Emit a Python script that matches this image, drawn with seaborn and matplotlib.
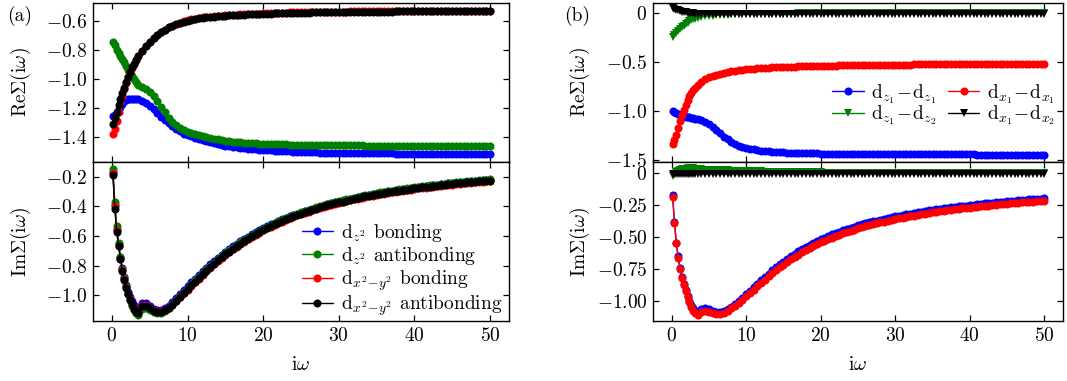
import matplotlib
matplotlib.use("Agg")
import matplotlib.pyplot as plt
import seaborn as sns
from matplotlib.ticker import FixedLocator, FixedFormatter

# Matsubara frequency grid
X = [0.13, 0.38, 0.63, 0.88, 1.13, 1.38, 1.63, 1.88, 2.14, 2.39, 2.64, 2.89, 3.14,
     3.5, 4.0, 4.5, 5.0, 5.5, 6.0, 6.5, 7.0, 7.5, 8.0, 8.5, 9.0, 9.5,
     10.0, 10.5, 11.0, 11.5, 12.0, 12.5, 13.0, 13.5, 14.0, 14.5,
     15.0, 15.5, 16.0, 16.5, 17.0, 17.5, 18.0, 18.5, 19.0, 19.5,
     20.0, 20.5, 21.0, 21.5, 22.0, 22.5, 23.0, 23.5, 24.0, 24.5,
     25.0, 25.5, 26.0, 26.5, 27.0, 27.5, 28.0, 28.5, 29.0, 29.5,
     30.0, 30.5, 31.0, 31.5, 32.0, 32.5, 33.0, 33.5, 34.0, 34.5,
     35.0, 35.5, 36.0, 36.5, 37.0, 37.5, 38.0, 38.5, 39.0, 39.5,
     40.0, 40.5, 41.0, 41.5, 42.0, 42.5, 43.0, 43.5, 44.0, 44.5,
     45.0, 45.5, 46.0, 46.5, 47.0, 47.5, 48.0, 48.5, 49.0, 49.5,
     50.0]

# ---------------- panel (a): Re Sigma ----------------
A_RE_BLUE = [-1.255, -1.250, -1.235, -1.210, -1.190, -1.170, -1.155, -1.145, -1.140, -1.135, -1.135, -1.135, -1.137,
             -1.140, -1.150, -1.165, -1.185, -1.210, -1.235, -1.260, -1.285, -1.305, -1.325, -1.345, -1.360, -1.375,
             -1.385, -1.395, -1.405, -1.413, -1.420, -1.428, -1.435, -1.441, -1.447, -1.452,
             -1.457, -1.461, -1.465, -1.469, -1.472, -1.475, -1.478, -1.481, -1.483, -1.485,
             -1.487, -1.489, -1.491, -1.493, -1.494, -1.496, -1.497, -1.498, -1.499, -1.500,
             -1.501, -1.502, -1.503, -1.504, -1.504, -1.505, -1.505, -1.506, -1.506, -1.507,
             -1.507, -1.508, -1.508, -1.508, -1.509, -1.509, -1.509, -1.510, -1.510, -1.510,
             -1.510, -1.511, -1.511, -1.511, -1.511, -1.512, -1.512, -1.512, -1.512, -1.512,
             -1.512, -1.513, -1.513, -1.513, -1.513, -1.513, -1.513, -1.514, -1.514, -1.514,
             -1.514, -1.514, -1.514, -1.514, -1.514, -1.515, -1.515, -1.515, -1.515, -1.515,
             -1.515]
A_RE_GREEN = [-0.750, -0.770, -0.800, -0.825, -0.845, -0.865, -0.885, -0.915, -0.940, -0.960, -0.980, -1.000, -1.020,
              -1.040, -1.055, -1.070, -1.090, -1.120, -1.150, -1.190, -1.230, -1.265, -1.295, -1.315, -1.335, -1.350,
              -1.362, -1.371, -1.380, -1.388, -1.395, -1.400, -1.405, -1.410, -1.415, -1.419,
              -1.423, -1.427, -1.430, -1.433, -1.435, -1.437, -1.439, -1.441, -1.442, -1.444,
              -1.445, -1.446, -1.447, -1.448, -1.449, -1.450, -1.450, -1.451, -1.451, -1.452,
              -1.452, -1.453, -1.453, -1.454, -1.454, -1.454, -1.454, -1.455, -1.455, -1.455,
              -1.455, -1.456, -1.456, -1.456, -1.456, -1.456, -1.456, -1.457, -1.457, -1.457,
              -1.457, -1.457, -1.457, -1.457, -1.457, -1.457, -1.458, -1.458, -1.458, -1.458,
              -1.458, -1.458, -1.458, -1.458, -1.458, -1.458, -1.458, -1.458, -1.458, -1.458,
              -1.458, -1.458, -1.459, -1.459, -1.459, -1.459, -1.459, -1.459, -1.459, -1.459,
              -1.459]
A_RE_RED = [-1.380, -1.345, -1.290, -1.225, -1.165, -1.115, -1.070, -1.028, -0.990, -0.955, -0.924, -0.896, -0.873,
            -0.845, -0.808, -0.775, -0.745, -0.720, -0.700, -0.680, -0.662, -0.647, -0.635, -0.625, -0.616, -0.606,
            -0.598, -0.592, -0.587, -0.583, -0.579, -0.576, -0.573, -0.570, -0.568, -0.566,
            -0.564, -0.562, -0.561, -0.559, -0.558, -0.556, -0.555, -0.554, -0.553, -0.552,
            -0.551, -0.550, -0.549, -0.548, -0.548, -0.547, -0.546, -0.545, -0.545, -0.544,
            -0.544, -0.543, -0.543, -0.542, -0.542, -0.541, -0.541, -0.540, -0.540, -0.540,
            -0.540, -0.539, -0.539, -0.538, -0.538, -0.538, -0.538, -0.537, -0.537, -0.537,
            -0.537, -0.536, -0.536, -0.536, -0.536, -0.535, -0.535, -0.535, -0.535, -0.535,
            -0.535, -0.534, -0.534, -0.534, -0.534, -0.534, -0.534, -0.533, -0.533, -0.533,
            -0.533, -0.533, -0.533, -0.533, -0.532, -0.532, -0.532, -0.532, -0.532, -0.532,
            -0.532]
A_RE_BLACK = [-1.310, -1.265, -1.225, -1.180, -1.140, -1.100, -1.060, -1.020, -0.985, -0.952, -0.922, -0.895, -0.872,
              -0.845, -0.808, -0.775, -0.745, -0.720, -0.700, -0.680, -0.662, -0.647, -0.635, -0.625, -0.616, -0.608,
              -0.601, -0.595, -0.590, -0.586, -0.582, -0.579, -0.576, -0.573, -0.571, -0.569,
              -0.567, -0.565, -0.564, -0.562, -0.561, -0.559, -0.558, -0.557, -0.556, -0.555,
              -0.554, -0.553, -0.552, -0.551, -0.551, -0.550, -0.549, -0.548, -0.548, -0.547,
              -0.547, -0.546, -0.546, -0.545, -0.545, -0.544, -0.544, -0.543, -0.543, -0.543,
              -0.543, -0.542, -0.542, -0.541, -0.541, -0.541, -0.541, -0.540, -0.540, -0.540,
              -0.540, -0.539, -0.539, -0.539, -0.539, -0.538, -0.538, -0.538, -0.538, -0.538,
              -0.538, -0.537, -0.537, -0.537, -0.537, -0.537, -0.537, -0.536, -0.536, -0.536,
              -0.536, -0.536, -0.536, -0.536, -0.535, -0.535, -0.535, -0.535, -0.535, -0.535,
              -0.535]

# ---------------- panel (a): Im Sigma ----------------
A_IM_BLUE = [-0.170, -0.390, -0.550, -0.655, -0.745, -0.818, -0.878, -0.930, -0.975, -1.012, -1.042, -1.068, -1.085,
             -1.092, -1.050, -1.052, -1.072, -1.092, -1.102, -1.100, -1.088, -1.070, -1.048, -1.022, -0.994, -0.966,
             -0.938, -0.913, -0.888, -0.863, -0.839, -0.815, -0.792, -0.769, -0.747, -0.727,
             -0.707, -0.688, -0.670, -0.652, -0.635, -0.619, -0.604, -0.589, -0.574, -0.560,
             -0.546, -0.534, -0.522, -0.510, -0.499, -0.488, -0.478, -0.468, -0.459, -0.450,
             -0.442, -0.433, -0.425, -0.417, -0.409, -0.401, -0.394, -0.387, -0.380, -0.373,
             -0.367, -0.361, -0.355, -0.349, -0.343, -0.337, -0.332, -0.327, -0.322, -0.317,
             -0.313, -0.308, -0.304, -0.299, -0.295, -0.291, -0.287, -0.283, -0.280, -0.276,
             -0.273, -0.269, -0.266, -0.263, -0.260, -0.257, -0.254, -0.251, -0.248, -0.245,
             -0.242, -0.239, -0.237, -0.234, -0.232, -0.229, -0.227, -0.225, -0.223, -0.221,
             -0.219]
A_IM_GREEN = [-0.150, -0.370, -0.530, -0.645, -0.740, -0.820, -0.885, -0.940, -0.990, -1.035, -1.070, -1.100, -1.122,
              -1.135, -1.090, -1.085, -1.100, -1.115, -1.122, -1.118, -1.105, -1.085, -1.060, -1.032, -1.003, -0.975,
              -0.950, -0.925, -0.900, -0.875, -0.850, -0.826, -0.802, -0.779, -0.757, -0.736,
              -0.716, -0.697, -0.678, -0.660, -0.643, -0.626, -0.610, -0.595, -0.580, -0.565,
              -0.550, -0.537, -0.525, -0.513, -0.501, -0.490, -0.479, -0.469, -0.459, -0.449,
              -0.440, -0.431, -0.423, -0.415, -0.407, -0.399, -0.392, -0.385, -0.378, -0.371,
              -0.365, -0.359, -0.353, -0.347, -0.341, -0.335, -0.330, -0.325, -0.320, -0.315,
              -0.311, -0.306, -0.302, -0.297, -0.293, -0.289, -0.285, -0.281, -0.278, -0.274,
              -0.271, -0.267, -0.264, -0.261, -0.258, -0.255, -0.252, -0.249, -0.246, -0.243,
              -0.240, -0.237, -0.235, -0.232, -0.230, -0.227, -0.225, -0.223, -0.221, -0.219,
              -0.217]
A_IM_RED = [-0.175, -0.400, -0.560, -0.665, -0.752, -0.830, -0.893, -0.945, -0.990, -1.028, -1.060, -1.088, -1.108,
            -1.118, -1.068, -1.068, -1.086, -1.102, -1.110, -1.108, -1.098, -1.083, -1.064, -1.040, -1.013, -0.987,
            -0.962, -0.937, -0.912, -0.887, -0.862, -0.838, -0.814, -0.791, -0.769, -0.748,
            -0.728, -0.709, -0.690, -0.672, -0.655, -0.638, -0.622, -0.607, -0.592, -0.577,
            -0.562, -0.549, -0.537, -0.525, -0.513, -0.502, -0.491, -0.481, -0.471, -0.461,
            -0.452, -0.443, -0.435, -0.427, -0.419, -0.411, -0.404, -0.397, -0.390, -0.383,
            -0.377, -0.371, -0.365, -0.359, -0.353, -0.347, -0.342, -0.337, -0.332, -0.327,
            -0.323, -0.318, -0.314, -0.309, -0.305, -0.301, -0.297, -0.293, -0.290, -0.286,
            -0.283, -0.279, -0.276, -0.273, -0.270, -0.267, -0.264, -0.261, -0.258, -0.255,
            -0.252, -0.249, -0.247, -0.244, -0.242, -0.239, -0.237, -0.235, -0.233, -0.231,
            -0.229]
A_IM_BLACK = [-0.185, -0.415, -0.570, -0.670, -0.758, -0.835, -0.898, -0.948, -0.992, -1.030, -1.062, -1.090, -1.110,
              -1.120, -1.070, -1.070, -1.088, -1.104, -1.112, -1.110, -1.100, -1.085, -1.065, -1.040, -1.012, -0.985,
              -0.958, -0.933, -0.908, -0.883, -0.858, -0.834, -0.810, -0.787, -0.765, -0.744,
              -0.724, -0.705, -0.686, -0.668, -0.651, -0.634, -0.618, -0.603, -0.588, -0.573,
              -0.558, -0.545, -0.533, -0.521, -0.509, -0.498, -0.487, -0.477, -0.467, -0.457,
              -0.448, -0.439, -0.431, -0.423, -0.415, -0.407, -0.400, -0.393, -0.386, -0.379,
              -0.373, -0.367, -0.361, -0.355, -0.349, -0.343, -0.338, -0.333, -0.328, -0.323,
              -0.319, -0.314, -0.310, -0.305, -0.301, -0.297, -0.293, -0.289, -0.286, -0.282,
              -0.279, -0.275, -0.272, -0.269, -0.266, -0.263, -0.260, -0.257, -0.254, -0.251,
              -0.248, -0.245, -0.243, -0.240, -0.238, -0.235, -0.233, -0.231, -0.229, -0.227,
              -0.225]

# ---------------- panel (b): Re Sigma ----------------
B_RE_BLUE = [-1.000, -1.010, -1.020, -1.030, -1.038, -1.045, -1.050, -1.055, -1.060, -1.065, -1.070, -1.075, -1.080,
             -1.085, -1.095, -1.110, -1.130, -1.160, -1.190, -1.225, -1.260, -1.290, -1.315, -1.335, -1.352, -1.365,
             -1.375, -1.384, -1.392, -1.398, -1.403, -1.407, -1.411, -1.414, -1.417, -1.419,
             -1.421, -1.423, -1.425, -1.427, -1.428, -1.429, -1.430, -1.431, -1.432, -1.433,
             -1.434, -1.434, -1.435, -1.435, -1.436, -1.436, -1.437, -1.437, -1.438, -1.438,
             -1.439, -1.439, -1.439, -1.439, -1.440, -1.440, -1.440, -1.440, -1.441, -1.441,
             -1.441, -1.441, -1.441, -1.442, -1.442, -1.442, -1.442, -1.442, -1.442, -1.442,
             -1.443, -1.443, -1.443, -1.443, -1.443, -1.443, -1.443, -1.443, -1.443, -1.443,
             -1.443, -1.443, -1.444, -1.444, -1.444, -1.444, -1.444, -1.444, -1.444, -1.444,
             -1.444, -1.444, -1.445, -1.445, -1.445, -1.445, -1.445, -1.445, -1.445, -1.445,
             -1.445]
B_RE_GREEN = [-0.240, -0.225, -0.205, -0.185, -0.165, -0.145, -0.127, -0.110, -0.095, -0.082, -0.071, -0.062, -0.054,
              -0.046, -0.038, -0.032, -0.027, -0.023, -0.020, -0.017, -0.015, -0.013, -0.011, -0.010, -0.009, -0.008,
              -0.007, -0.0065, -0.006, -0.0055, -0.005, -0.0045, -0.004, -0.004, -0.004, -0.0035,
              -0.003, -0.003, -0.003, -0.0025, -0.002, -0.002, -0.002, -0.002, -0.002, -0.0015,
              -0.001, -0.001, -0.001, -0.001, -0.001, -0.001, -0.001, -0.001, -0.001, -0.001,
              -0.001, -0.001, -0.001, -0.001, -0.001, -0.001, -0.001, -0.001, -0.001, -0.001,
              0.000, 0.000, 0.000, 0.000, 0.000, 0.000, 0.000, 0.000, 0.000, 0.000,
              0.000, 0.000, 0.000, 0.000, 0.000, 0.000, 0.000, 0.000, 0.000, 0.000,
              0.000, 0.000, 0.000, 0.000, 0.000, 0.000, 0.000, 0.000, 0.000, 0.000,
              0.000, 0.000, 0.000, 0.000, 0.000, 0.000, 0.000, 0.000, 0.000, 0.000,
              0.000]
B_RE_RED = [-1.335, -1.300, -1.240, -1.170, -1.100, -1.040, -0.985, -0.935, -0.890, -0.850, -0.815, -0.785, -0.760,
            -0.730, -0.700, -0.675, -0.655, -0.640, -0.627, -0.617, -0.608, -0.600, -0.594, -0.588, -0.583, -0.578,
            -0.574, -0.570, -0.567, -0.564, -0.561, -0.558, -0.556, -0.554, -0.552, -0.550,
            -0.549, -0.547, -0.546, -0.544, -0.543, -0.542, -0.541, -0.540, -0.539, -0.538,
            -0.537, -0.536, -0.535, -0.534, -0.534, -0.533, -0.532, -0.531, -0.531, -0.530,
            -0.530, -0.529, -0.529, -0.528, -0.528, -0.527, -0.527, -0.526, -0.526, -0.525,
            -0.525, -0.525, -0.525, -0.524, -0.524, -0.523, -0.523, -0.523, -0.523, -0.522,
            -0.522, -0.522, -0.522, -0.521, -0.521, -0.521, -0.521, -0.521, -0.521, -0.520,
            -0.520, -0.520, -0.520, -0.520, -0.520, -0.519, -0.519, -0.519, -0.519, -0.519,
            -0.519, -0.519, -0.519, -0.518, -0.518, -0.518, -0.518, -0.518, -0.518, -0.518,
            -0.518]
B_RE_BLACK = [0.055, 0.044, 0.037, 0.030, 0.024, 0.018, 0.013, 0.009, 0.005, 0.002, 0.000, -0.002, -0.003,
              -0.004, -0.005, -0.006, -0.006, -0.006, -0.006, -0.006, -0.006, -0.006, -0.006, -0.006, -0.006, -0.006,
              -0.006, -0.006, -0.006, -0.006, -0.006, -0.006, -0.006, -0.006, -0.006, -0.006,
              -0.006, -0.006, -0.006, -0.006, -0.006, -0.006, -0.006, -0.006, -0.006, -0.006,
              -0.005, -0.005, -0.005, -0.005, -0.005, -0.005, -0.005, -0.005, -0.005, -0.005,
              -0.005, -0.005, -0.005, -0.005, -0.005, -0.005, -0.005, -0.005, -0.005, -0.005,
              -0.005, -0.005, -0.005, -0.005, -0.005, -0.004, -0.004, -0.004, -0.004, -0.004,
              -0.004, -0.004, -0.004, -0.004, -0.004, -0.004, -0.004, -0.004, -0.004, -0.004,
              -0.004, -0.004, -0.004, -0.004, -0.004, -0.004, -0.004, -0.004, -0.004, -0.004,
              -0.004, -0.004, -0.004, -0.004, -0.004, -0.004, -0.004, -0.004, -0.004, -0.004,
              -0.004]

# ---------------- panel (b): Im Sigma ----------------
B_IM_BLUE = [-0.170, -0.383, -0.543, -0.652, -0.742, -0.812, -0.867, -0.915, -0.958, -0.996, -1.028, -1.055, -1.074,
             -1.085, -1.062, -1.055, -1.066, -1.078, -1.085, -1.084, -1.076, -1.063, -1.046, -1.026, -1.002, -0.977,
             -0.945, -0.918, -0.892, -0.865, -0.838, -0.812, -0.786, -0.761, -0.737, -0.714,
             -0.692, -0.671, -0.651, -0.632, -0.613, -0.596, -0.579, -0.563, -0.547, -0.532,
             -0.518, -0.505, -0.492, -0.480, -0.469, -0.458, -0.447, -0.437, -0.428, -0.419,
             -0.410, -0.401, -0.393, -0.385, -0.378, -0.371, -0.364, -0.357, -0.351, -0.345,
             -0.339, -0.333, -0.327, -0.322, -0.317, -0.312, -0.307, -0.302, -0.297, -0.292,
             -0.288, -0.284, -0.280, -0.276, -0.272, -0.268, -0.265, -0.261, -0.258, -0.254,
             -0.251, -0.247, -0.244, -0.241, -0.238, -0.235, -0.232, -0.229, -0.226, -0.223,
             -0.221, -0.218, -0.216, -0.213, -0.211, -0.208, -0.206, -0.204, -0.202, -0.200,
             -0.198]
B_IM_GREEN = [-0.020, -0.005, 0.008, 0.018, 0.025, 0.030, 0.033, 0.035, 0.036, 0.037, 0.037, 0.036, 0.035,
              0.034, 0.030, 0.027, 0.025, 0.024, 0.023, 0.022, 0.021, 0.020, 0.019, 0.018, 0.017, 0.016,
              0.015, 0.014, 0.013, 0.0125, 0.012, 0.011, 0.010, 0.0095, 0.009, 0.0085,
              0.008, 0.0075, 0.007, 0.0065, 0.006, 0.0055, 0.005, 0.0045, 0.004, 0.004,
              0.004, 0.0035, 0.003, 0.003, 0.003, 0.003, 0.003, 0.003, 0.003, 0.003,
              0.003, 0.0025, 0.002, 0.002, 0.002, 0.002, 0.002, 0.002, 0.002, 0.002,
              0.002, 0.002, 0.002, 0.002, 0.002, 0.002, 0.002, 0.002, 0.002, 0.002,
              0.002, 0.0015, 0.001, 0.001, 0.001, 0.001, 0.001, 0.001, 0.001, 0.001,
              0.001, 0.001, 0.001, 0.001, 0.001, 0.001, 0.001, 0.001, 0.001, 0.001,
              0.001, 0.001, 0.001, 0.001, 0.001, 0.001, 0.001, 0.001, 0.001, 0.001,
              0.001]
B_IM_RED = [-0.185, -0.390, -0.550, -0.660, -0.750, -0.820, -0.875, -0.925, -0.970, -1.010, -1.045, -1.075, -1.095,
            -1.108, -1.085, -1.075, -1.085, -1.097, -1.102, -1.100, -1.090, -1.075, -1.058, -1.040, -1.015, -0.990,
            -0.962, -0.936, -0.910, -0.884, -0.858, -0.833, -0.808, -0.784, -0.760, -0.738,
            -0.716, -0.695, -0.675, -0.656, -0.637, -0.620, -0.603, -0.587, -0.571, -0.556,
            -0.542, -0.529, -0.516, -0.504, -0.493, -0.482, -0.471, -0.461, -0.451, -0.442,
            -0.433, -0.424, -0.416, -0.408, -0.400, -0.393, -0.386, -0.379, -0.372, -0.366,
            -0.360, -0.354, -0.348, -0.342, -0.337, -0.332, -0.327, -0.322, -0.317, -0.312,
            -0.308, -0.304, -0.300, -0.296, -0.292, -0.288, -0.284, -0.280, -0.277, -0.273,
            -0.270, -0.266, -0.263, -0.260, -0.257, -0.254, -0.251, -0.248, -0.245, -0.242,
            -0.240, -0.237, -0.235, -0.232, -0.230, -0.227, -0.225, -0.223, -0.221, -0.219,
            -0.217]
B_IM_BLACK = [-0.005, -0.008, -0.010, -0.010, -0.009, -0.008, -0.007, -0.006, -0.006, -0.005, -0.005, -0.005, -0.005,
              -0.005, -0.005, -0.005, -0.005, -0.005, -0.005, -0.005, -0.005, -0.005, -0.005, -0.005, -0.005, -0.005,
              -0.004, -0.004, -0.004, -0.004, -0.004, -0.004, -0.004, -0.004, -0.004, -0.004,
              -0.004, -0.004, -0.004, -0.004, -0.004, -0.004, -0.004, -0.004, -0.004, -0.004,
              -0.004, -0.004, -0.004, -0.004, -0.004, -0.004, -0.004, -0.004, -0.004, -0.004,
              -0.004, -0.004, -0.004, -0.004, -0.004, -0.004, -0.004, -0.004, -0.004, -0.004,
              -0.004, -0.004, -0.004, -0.004, -0.004, -0.004, -0.004, -0.004, -0.004, -0.004,
              -0.004, -0.004, -0.004, -0.004, -0.004, -0.004, -0.004, -0.004, -0.004, -0.004,
              -0.004, -0.004, -0.004, -0.004, -0.004, -0.004, -0.004, -0.004, -0.004, -0.004,
              -0.004, -0.004, -0.004, -0.004, -0.004, -0.004, -0.004, -0.004, -0.004, -0.004,
              -0.004]

LEGEND_A = [r"$\mathrm{d}_{z^2}$ bonding", r"$\mathrm{d}_{z^2}$ antibonding",
            r"$\mathrm{d}_{x^2\!-\!y^2}$ bonding", r"$\mathrm{d}_{x^2\!-\!y^2}$ antibonding"]
LEGEND_B = [r"$\mathrm{d}_{z_1}\!-\!\mathrm{d}_{z_1}$", r"$\mathrm{d}_{z_1}\!-\!\mathrm{d}_{z_2}$",
            r"$\mathrm{d}_{x_1}\!-\!\mathrm{d}_{x_1}$", r"$\mathrm{d}_{x_1}\!-\!\mathrm{d}_{x_2}$"]

XTICKS = [0, 10, 20, 30, 40, 50]
XTICKLABELS = [r"$0$", r"$10$", r"$20$", r"$30$", r"$40$", r"$50$"]
A_RE_TICKS = [-1.4, -1.2, -1.0, -0.8, -0.6]
A_RE_LABELS = [r"$-1.4$", r"$-1.2$", r"$-1.0$", r"$-0.8$", r"$-0.6$"]
A_IM_TICKS = [-1.0, -0.8, -0.6, -0.4, -0.2]
A_IM_LABELS = [r"$-1.0$", r"$-0.8$", r"$-0.6$", r"$-0.4$", r"$-0.2$"]
B_RE_TICKS = [-1.5, -1.0, -0.5, 0.0]
B_RE_LABELS = [r"$-1.5$", r"$-1.0$", r"$-0.5$", r"$0$"]
B_IM_TICKS = [-1.0, -0.75, -0.5, -0.25, 0.0]
B_IM_LABELS = [r"$-1.00$", r"$-0.75$", r"$-0.50$", r"$-0.25$", r"$0$"]

COLORS = ["#0000ff", "#008000", "#ff0000", "#000000"]

FS = 14

sns.set_theme(style="ticks")
plt.rcParams.update({
    "font.family": "serif",
    "font.serif": ["cmr10", "DejaVu Serif"],
    "mathtext.fontset": "cm",
    "axes.formatter.use_mathtext": True,
    "axes.unicode_minus": False,
    "font.size": FS,
    "text.color": "black",
    "axes.labelcolor": "black",
    "axes.edgecolor": "black",
    "axes.linewidth": 1.0,
    "xtick.color": "black",
    "ytick.color": "black",
    "xtick.direction": "in",
    "ytick.direction": "in",
    "xtick.top": True,
    "ytick.right": True,
    "xtick.labelsize": FS,
    "ytick.labelsize": FS,
})

fig = plt.figure(figsize=(10.67, 3.81), dpi=100)
L1, W1 = 93 / 1067, 416 / 1067
L2, W2 = 653 / 1067, 410 / 1067
H = 159 / 381
TOP_B = 1 - 162 / 381
BOT_B = 1 - 321 / 381
ax_a1 = fig.add_axes([L1, TOP_B, W1, H])
ax_a2 = fig.add_axes([L1, BOT_B, W1, H])
ax_b1 = fig.add_axes([L2, TOP_B, W2, H])
ax_b2 = fig.add_axes([L2, BOT_B, W2, H])


def draw(ax, y, color, marker, label=None):
    kw = dict(x=X, y=y, ax=ax, color=color, marker=marker, markersize=5.8,
              markeredgewidth=0, linewidth=1.0, legend=False, errorbar=None)
    if label is not None:
        kw["label"] = label
    sns.lineplot(**kw)


for y, c in zip([A_RE_BLUE, A_RE_GREEN, A_RE_RED, A_RE_BLACK], COLORS):
    draw(ax_a1, y, c, "o")
for y, c, lab in zip([A_IM_BLUE, A_IM_GREEN, A_IM_RED, A_IM_BLACK], COLORS, LEGEND_A):
    draw(ax_a2, y, c, "o", lab)

markers_b = ["o", "v", "o", "v"]
for y, c, m, lab in zip([B_RE_BLUE, B_RE_GREEN, B_RE_RED, B_RE_BLACK], COLORS, markers_b, LEGEND_B):
    draw(ax_b1, y, c, m, lab)
for y, c, m in zip([B_IM_BLUE, B_IM_GREEN, B_IM_RED, B_IM_BLACK], COLORS, markers_b):
    draw(ax_b2, y, c, m)

ylims = {ax_a1: (-1.57, -0.48), ax_a2: (-1.174, -0.10), ax_b1: (-1.52, 0.105), ax_b2: (-1.156, 0.086)}
yt = {ax_a1: (A_RE_TICKS, A_RE_LABELS), ax_a2: (A_IM_TICKS, A_IM_LABELS),
      ax_b1: (B_RE_TICKS, B_RE_LABELS), ax_b2: (B_IM_TICKS, B_IM_LABELS)}

re_label = r"$\mathrm{Re}\mathit{\Sigma}(\mathrm{i}\omega)$"
im_label = r"$\mathrm{Im}\mathit{\Sigma}(\mathrm{i}\omega)$"

for ax in [ax_a1, ax_a2, ax_b1, ax_b2]:
    ax.set_xlim(-2.5, 52.5)
    ax.set_ylim(*ylims[ax])
    ax.xaxis.set_major_locator(FixedLocator(XTICKS))
    ax.xaxis.set_major_formatter(FixedFormatter(XTICKLABELS))
    ax.yaxis.set_major_locator(FixedLocator(yt[ax][0]))
    ax.yaxis.set_major_formatter(FixedFormatter(yt[ax][1]))
    ax.tick_params(which="major", direction="in", top=True, right=True, length=4, width=0.9, pad=4)
    ax.minorticks_off()

for ax in [ax_a1, ax_b1]:
    ax.tick_params(labelbottom=False)
    ax.set_xlabel("")
    ax.set_ylabel(re_label, fontsize=FS)
for ax in [ax_a2, ax_b2]:
    ax.set_xlabel(r"$\mathrm{i}\omega$", fontsize=FS)
    ax.xaxis.set_label_coords(0.5, -0.22)
    ax.set_ylabel(im_label, fontsize=FS)

for ax in [ax_a1, ax_a2]:
    ax.yaxis.set_label_coords(-0.145, 0.5)
for ax in [ax_b1, ax_b2]:
    ax.yaxis.set_label_coords(-0.15, 0.5)

ax_a2.legend(loc="lower right", bbox_to_anchor=(1.0, -0.025), frameon=False,
             handlelength=1.6, handletextpad=0.4, labelspacing=0.05,
             borderaxespad=0.15, borderpad=0.2, fontsize=FS)
ax_b1.legend(loc="center right", bbox_to_anchor=(1.005, 0.36), ncol=2, frameon=False,
             columnspacing=0.6, handlelength=1.6, handletextpad=0.4, labelspacing=-0.1,
             borderaxespad=0.1, fontsize=FS)

fig.text(0.007, 0.958, "(a)", va="center", ha="left", fontsize=FS)
fig.text(0.529, 0.958, "(b)", va="center", ha="left", fontsize=FS)

fig.savefig("out.png", dpi=100)
